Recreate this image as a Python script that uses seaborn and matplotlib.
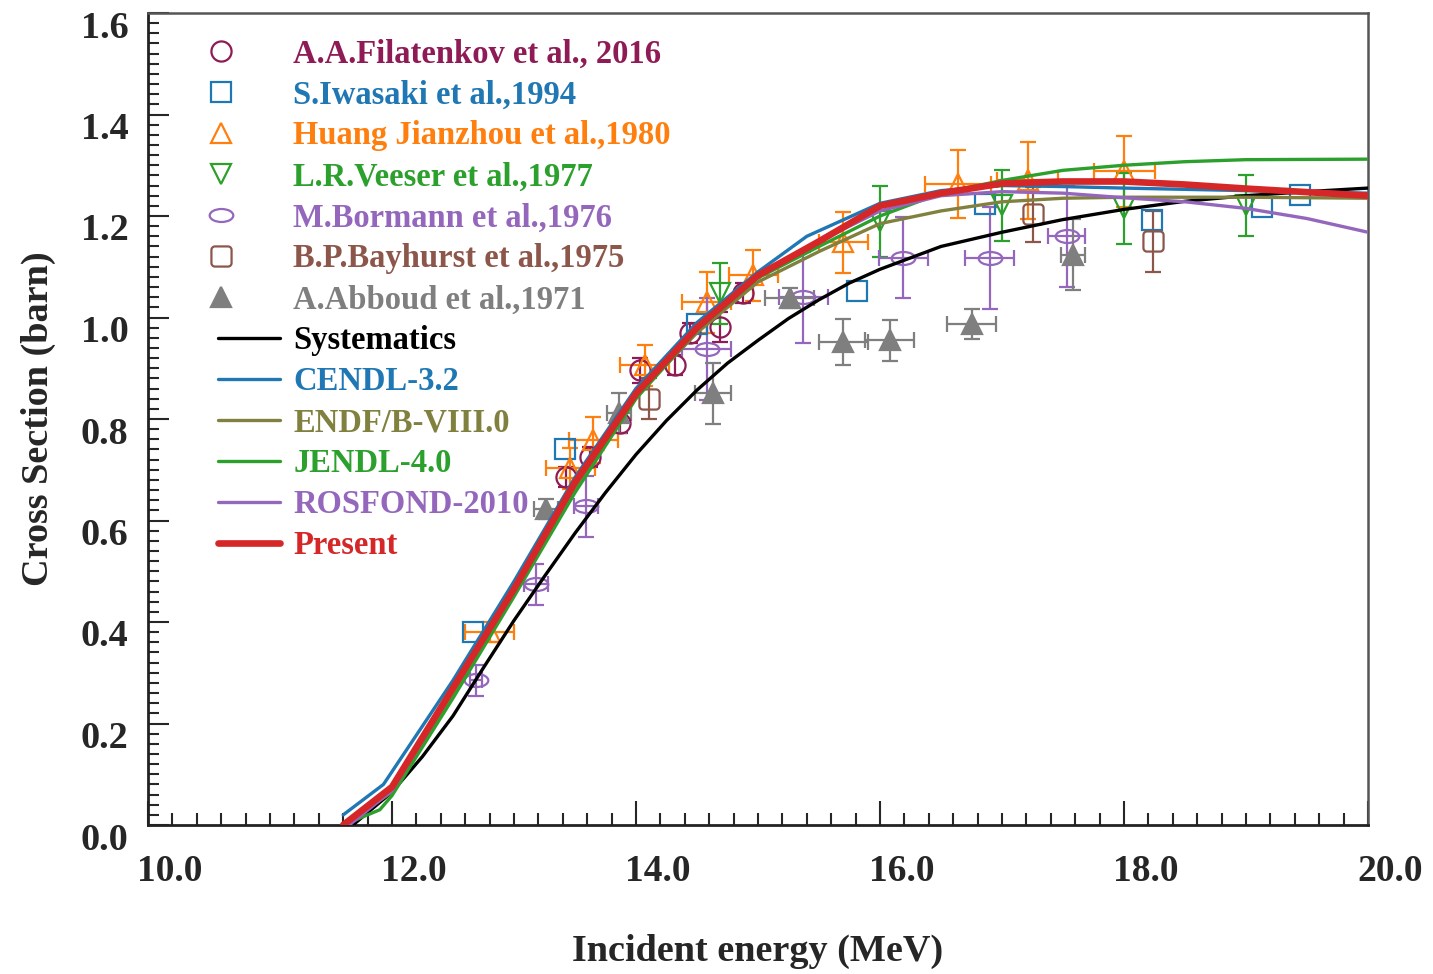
import numpy as np
import pandas as pd
import matplotlib
matplotlib.use("Agg")
import matplotlib.pyplot as plt
import seaborn as sns
from matplotlib.path import Path
from matplotlib.transforms import Affine2D, ScaledTranslation
from matplotlib.lines import Line2D
from matplotlib.ticker import MultipleLocator, FixedLocator
from matplotlib.legend_handler import HandlerLine2D

# ---------------- evaluated curves ----------------
E_sys = [11.68, 12.0, 12.25, 12.5, 12.75, 13.0, 13.25, 13.5, 13.75, 14.0, 14.25, 14.5, 14.75, 15.0,
         15.25, 15.5, 15.75, 16.0, 16.5, 17.0, 17.5, 18.0, 18.5, 19.0, 19.5, 20.0]
S_sys = [0.0, 0.065, 0.135, 0.215, 0.31, 0.403, 0.49, 0.575, 0.655, 0.73, 0.797, 0.857, 0.91, 0.955,
         0.998, 1.035, 1.068, 1.095, 1.14, 1.168, 1.193, 1.213, 1.229, 1.24, 1.248, 1.255]

E_cendl = [11.6, 11.93, 12.5, 13.0, 13.5, 14.0, 14.5, 15.0, 15.4, 16.0, 16.5, 17.0, 17.5, 18.0, 19.0, 20.0]
S_cendl = [0.02, 0.08, 0.285, 0.48, 0.685, 0.86, 0.99, 1.09, 1.16, 1.225, 1.25, 1.26, 1.258, 1.255, 1.25, 1.245]

E_endf = [11.6, 12.0, 12.5, 13.0, 13.5, 14.0, 14.5, 15.0, 15.5, 16.0, 16.5, 17.0, 17.5, 18.0, 19.0, 20.0]
S_endf = [0.0, 0.065, 0.26, 0.455, 0.665, 0.845, 0.97, 1.07, 1.13, 1.185, 1.21, 1.228, 1.235, 1.237, 1.237, 1.235]

E_jendl = [11.6, 11.9, 12.0, 12.5, 13.0, 13.5, 14.0, 14.5, 15.0, 15.5, 16.0, 16.5, 17.0, 17.5, 18.0, 18.5, 19.0, 20.0]
S_jendl = [0.0, 0.03, 0.058, 0.25, 0.45, 0.655, 0.84, 0.975, 1.078, 1.14, 1.2, 1.245, 1.27, 1.29, 1.30, 1.307, 1.311, 1.312]

E_rosf = [11.65, 12.0, 12.5, 13.0, 13.5, 14.0, 14.5, 15.0, 15.5, 16.0, 16.5, 17.0, 17.5, 18.0, 18.5, 19.0, 19.5, 20.0]
S_rosf = [0.0, 0.068, 0.265, 0.46, 0.67, 0.85, 0.978, 1.08, 1.15, 1.21, 1.24, 1.248, 1.245, 1.236, 1.228, 1.215, 1.195, 1.168]

E_pres = [11.6, 12.0, 12.5, 13.0, 13.5, 14.0, 14.5, 15.0, 15.5, 16.0, 16.5, 17.0, 17.5, 18.0, 18.5, 19.0, 19.5, 20.0]
S_pres = [0.0, 0.075, 0.27, 0.465, 0.675, 0.85, 0.98, 1.083, 1.15, 1.22, 1.245, 1.264, 1.268, 1.268, 1.262, 1.254, 1.247, 1.24]

# ---------------- experimental data ----------------
E_fil = [13.43, 13.62, 13.87, 14.03, 14.32, 14.44, 14.69, 14.88]
S_fil = [0.686, 0.725, 0.792, 0.896, 0.906, 0.969, 0.981, 1.048]
Y_fil = [0.02, 0.02, 0.02, 0.025, 0.02, 0.02, 0.03, 0.02]

E_iwa = [12.66, 13.42, 14.5, 15.81, 16.86, 18.23, 19.13, 19.44]
S_iwa = [0.38, 0.74, 0.988, 1.053, 1.224, 1.193, 1.217, 1.242]

E_hua = [12.8, 13.46, 13.65, 14.07, 14.58, 14.96, 15.7, 16.64, 17.21, 18.0]
S_hua = [0.38, 0.703, 0.758, 0.906, 1.03, 1.083, 1.148, 1.264, 1.27, 1.288]
Y_hua = [0.02, 0.04, 0.045, 0.04, 0.06, 0.05, 0.06, 0.067, 0.075, 0.07]
X_hua = [0.2, 0.2, 0.2, 0.2, 0.2, 0.2, 0.2, 0.27, 0.25, 0.25]

E_vee = [14.69, 16.0, 17.0, 18.0, 19.0]
S_vee = [1.048, 1.19, 1.221, 1.215, 1.221]
Y_vee = [0.06, 0.07, 0.07, 0.07, 0.06]

E_bor = [12.69, 13.18, 13.59, 14.58, 15.37, 16.19, 16.9, 17.53]
S_bor = [0.285, 0.474, 0.628, 0.938, 1.04, 1.118, 1.117, 1.16]
Y_bor = [0.03, 0.04, 0.06, 0.1, 0.09, 0.08, 0.1, 0.1]
X_bor = [0.05, 0.1, 0.1, 0.2, 0.2, 0.2, 0.2, 0.15]

E_bay = [14.11, 17.25, 18.24]
S_bay = [0.84, 1.203, 1.15]
Y_bay = [0.04, 0.055, 0.06]

E_abb = [13.26, 13.86, 14.63, 15.26, 15.7, 16.08, 16.75, 17.58]
S_abb = [0.622, 0.812, 0.851, 1.038, 0.952, 0.955, 0.987, 1.124]
Y_abb = [0.02, 0.04, 0.06, 0.02, 0.045, 0.04, 0.03, 0.07]
X_abb = [0.1, 0.1, 0.15, 0.2, 0.2, 0.2, 0.2, 0.1]

x_ticks = [10.0, 12.0, 14.0, 16.0, 18.0, 20.0]
y_ticks = [0.0, 0.2, 0.4, 0.6, 0.8, 1.0, 1.2, 1.4, 1.6]

# ---------------- style ----------------
sns.set_style("white")
plt.rcParams['font.family'] = ['Liberation Serif', 'DejaVu Serif']
plt.rcParams['font.weight'] = 'bold'

pal = sns.color_palette("tab10")
c_fil = "#8E1B55"
c_iwa = pal[0]
c_hua = pal[1]
c_vee = pal[2]
c_bor = pal[4]
c_bay = pal[5]
c_abb = "#7F7F7F"
c_olive = "#80803F"

# custom marker shapes
ellipse = Path.unit_circle().transformed(Affine2D().scale(1.0, 0.55))
t = np.linspace(0, np.pi / 2, 8)
r = 0.35
corners = [(1 - r, 1 - r, 0), (-(1 - r), 1 - r, np.pi / 2), (-(1 - r), -(1 - r), np.pi), (1 - r, -(1 - r), 1.5 * np.pi)]
pts = []
for cx, cy, a0 in corners:
    pts.extend(zip(cx + r * np.cos(a0 + t), cy + r * np.sin(a0 + t)))
pts.append(pts[0])
rsquare = Path(pts, [Path.MOVETO] + [Path.LINETO] * (len(pts) - 2) + [Path.CLOSEPOLY])

fig = plt.figure(figsize=(14.33, 9.74), dpi=100)
ax = fig.add_axes([148 / 1433, 149 / 974, 1220 / 1433, 812 / 974])

# evaluated curves with seaborn
curves = [
    ("Systematics", E_sys, S_sys, "black", 2.4),
    ("CENDL-3.2", E_cendl, S_cendl, pal[0], 2.4),
    ("ENDF/B-VIII.0", E_endf, S_endf, c_olive, 2.4),
    ("JENDL-4.0", E_jendl, S_jendl, pal[2], 2.4),
    ("ROSFOND-2010", E_rosf, S_rosf, pal[4], 2.4),
    ("Present", E_pres, S_pres, pal[3], 4.8),
]
for name, ex, sy, col, lw in curves:
    df = pd.DataFrame({"E": ex, "S": sy})
    sns.lineplot(data=df, x="E", y="S", ax=ax, color=col, linewidth=lw,
                 sort=False, estimator=None, zorder=3 if name != "Present" else 4)

# experimental data
ms = 14.5
mew = 1.6
exps = [
    ("A.A.Filatenkov et al., 2016", E_fil, S_fil, Y_fil, None, 'o', c_fil, False, ms),
    ("S.Iwasaki et al.,1994", E_iwa, S_iwa, None, None, 's', c_iwa, False, ms),
    ("Huang Jianzhou et al.,1980", E_hua, S_hua, Y_hua, X_hua, '^', c_hua, False, ms),
    ("L.R.Veeser et al.,1977", E_vee, S_vee, Y_vee, None, 'v', c_vee, False, ms),
    ("M.Bormann et al.,1976", E_bor, S_bor, Y_bor, X_bor, ellipse, c_bor, False, 17),
    ("B.P.Bayhurst et al.,1975", E_bay, S_bay, Y_bay, None, rsquare, c_bay, False, ms),
    ("A.Abboud et al.,1971", E_abb, S_abb, Y_abb, X_abb, '^', c_abb, True, ms),
]
handles = []
for name, ex, sy, ye, xe, mk, col, filled, msz in exps:
    if ye is not None or xe is not None:
        ax.errorbar(ex, sy, yerr=ye, xerr=xe, fmt='none', ecolor=col,
                    elinewidth=1.6, capsize=6, capthick=1.6, zorder=2)
    ax.plot(ex, sy, linestyle='none', marker=mk, markersize=msz,
            markerfacecolor=col if filled else 'none', markeredgecolor=col,
            markeredgewidth=mew, zorder=2.5)
    handles.append(Line2D([], [], linestyle='none', marker=mk, markersize=msz,
                          markerfacecolor=col if filled else 'none',
                          markeredgecolor=col, markeredgewidth=mew))
for name, ex, sy, col, lw in curves:
    handles.append(Line2D([], [], color=col, linewidth=lw))
labels = [e[0] for e in exps] + [c[0] for c in curves]
colors = [e[6] for e in exps] + [c[3] for c in curves]


class LeftMarker(HandlerLine2D):
    def create_artists(self, legend, orig_handle, xdescent, ydescent,
                       width, height, fontsize, trans):
        arts = super().create_artists(legend, orig_handle, xdescent, ydescent,
                                      width, height, fontsize, trans)
        for a in arts:
            if a.get_linestyle() in ('None', 'none', ''):
                a.set_xdata([-xdescent + 0.04 * width])
        return arts


hmap = {h: LeftMarker(numpoints=1) for h in handles[:7]}
leg = ax.legend(handles, labels, handler_map=hmap, loc='upper left',
                bbox_to_anchor=(0.0574, 0.9685), frameon=False, fontsize=23.5,
                handlelength=1.9, handletextpad=0.4, labelspacing=0.305,
                borderaxespad=0, borderpad=0)
for txt, col in zip(leg.get_texts(), colors):
    txt.set_color(col)
    txt.set_fontweight('bold')

# axes
ax.set_xlim(10, 20)
ax.set_ylim(0, 1.6)
ax.xaxis.set_major_locator(FixedLocator(x_ticks))
ax.yaxis.set_major_locator(FixedLocator(y_ticks))
ax.xaxis.set_minor_locator(MultipleLocator(0.2))
ax.yaxis.set_minor_locator(MultipleLocator(0.02))
ax.set_xticklabels([f"{v:.1f}" for v in x_ticks])
ax.set_yticklabels([f"{v:.1f}" for v in y_ticks])
ax.tick_params(axis='x', which='major', direction='in', length=17, width=1.5,
               labelsize=27, pad=21, bottom=True, top=False)
ax.tick_params(axis='x', which='minor', direction='in', length=9, width=1.5,
               bottom=True, top=False)
ax.tick_params(axis='y', which='major', direction='in', length=15, width=1.5,
               labelsize=27.5, pad=14, left=True, right=False)
ax.tick_params(axis='y', which='minor', direction='in', length=8, width=1.5,
               left=True, right=False)
for lab in ax.get_xticklabels():
    lab.set_fontweight('bold')
    lab.set_transform(lab.get_transform() + ScaledTranslation(0.22, 0, fig.dpi_scale_trans))
for lab in ax.get_yticklabels():
    lab.set_fontweight('bold')
    lab.set_transform(lab.get_transform() + ScaledTranslation(0, -0.11, fig.dpi_scale_trans))

for s in ['left', 'bottom']:
    ax.spines[s].set_color('#222222')
    ax.spines[s].set_linewidth(2.0)
for s in ['top', 'right']:
    ax.spines[s].set_color('#555555')
    ax.spines[s].set_linewidth(1.8)

ax.set_xlabel("Incident energy (MeV)", fontsize=27.5, fontweight='bold', labelpad=32)
ax.set_ylabel("Cross Section (barn)", fontsize=27.5, fontweight='bold', labelpad=18)

fig.savefig("out.png", dpi=100)
